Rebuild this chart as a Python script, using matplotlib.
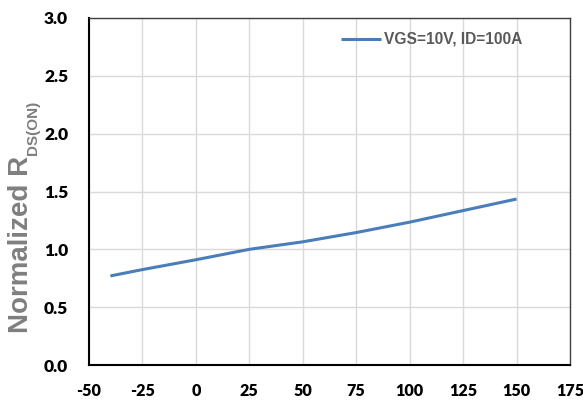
import matplotlib
matplotlib.use("Agg")
import matplotlib.pyplot as plt

# Normalized on-resistance vs junction temperature
temperature = [-40, -25, 0, 25, 50, 75, 100, 125, 150]
rds_norm = [0.77, 0.825, 0.91, 1.0, 1.065, 1.145, 1.235, 1.335, 1.435]
series_label = "VGS=10V, ID=100A"
x_ticks = [-50, -25, 0, 25, 50, 75, 100, 125, 150, 175]
y_ticks = [0.0, 0.5, 1.0, 1.5, 2.0, 2.5, 3.0]
ylabel_main = "Normalized R"
ylabel_sub = "DS(ON)"

W, H = 583, 403
fig = plt.figure(figsize=(W / 100, H / 100), dpi=100)
ax = fig.add_axes([89 / W, 1 - 365 / H, (570 - 89) / W, (365 - 18) / H])

ax.plot(temperature, rds_norm, color="#4a7ebb", linewidth=2.2, label=series_label,
        solid_capstyle="butt")

ax.set_xlim(-50, 175)
ax.set_ylim(0, 3.0)
ax.set_xticks(x_ticks)
ax.set_yticks(y_ticks)
ax.set_xticklabels([str(t) for t in x_ticks])
ax.set_yticklabels([f"{t:.1f}" for t in y_ticks])
ax.grid(True, color="#d9d9d9", linewidth=1.0)
ax.set_axisbelow(True)
ax.tick_params(axis="x", length=0, pad=13, labelsize=11.6)
ax.tick_params(axis="y", length=0, pad=15, labelsize=12.5)
for lbl in ax.get_xticklabels() + ax.get_yticklabels():
    lbl.set_fontfamily("Lato")
    lbl.set_fontweight("heavy")
    lbl.set_color("#000000")
for s in ax.spines.values():
    s.set_color("#404040")
    s.set_linewidth(1.0)
ax.spines["left"].set_color("#000000")
ax.spines["bottom"].set_color("#000000")
ax.spines["left"].set_linewidth(1.5)
ax.spines["bottom"].set_linewidth(1.5)

# Rotated axis title built from a main part and a subscript part
label_style = dict(rotation=90, rotation_mode="anchor", ha="left", va="baseline",
                   fontweight="bold", color="#7f7f7f", family="Liberation Sans")
main = fig.text(28 / W, 1 - 333 / H, ylabel_main, fontsize=20, **label_style)
fig.canvas.draw()
top_px = main.get_window_extent().y1
fig.text(37 / W, (top_px + 1) / H, ylabel_sub, fontsize=11, **label_style)

leg = ax.legend(loc="upper left", frameon=False, handlelength=2.6,
                handletextpad=0.15, borderpad=0, borderaxespad=0,
                bbox_to_anchor=((341 - 89) / (570 - 89), (365 - 32) / (365 - 18)),
                prop={"family": "Liberation Sans", "weight": "bold", "size": 11.2})
for t in leg.get_texts():
    t.set_color("#595959")

fig.savefig("out.png", dpi=100)
